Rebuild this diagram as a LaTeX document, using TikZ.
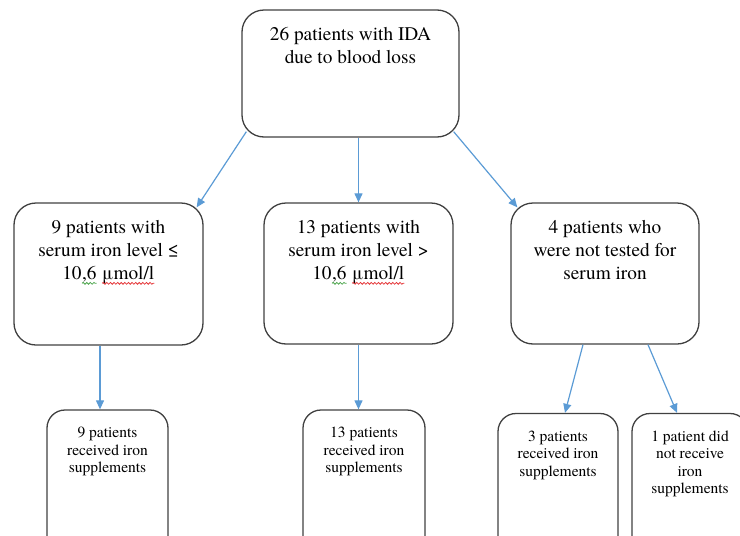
\documentclass[tikz,border=0pt]{standalone}
\usepackage{fontspec}
\setmainfont{TeX Gyre Termes}
\usetikzlibrary{arrows.meta,calc,positioning,decorations.pathmorphing}
\definecolor{BoxInk}{HTML}{404040}
\definecolor{FlowBlue}{HTML}{5B9BD5}
\definecolor{SpellRed}{HTML}{E5383B}
\definecolor{SpellGreen}{HTML}{4CA64C}
% word-style wavy underline
\newcommand{\wavy}[2]{\tikz[baseline=(wv.base)]{\node[inner sep=0pt,outer sep=0pt] (wv) {#2};
  \draw[#1, line width=0.8pt, decorate, decoration={snake,amplitude=0.9pt,segment length=3.6pt}]
    ([yshift=-4pt]wv.base west) -- ([yshift=-4pt]wv.base east);}}
\tikzset{
  box/.style={draw=BoxInk, line width=1.3pt, rounded corners=22pt, inner sep=0pt},
  smallbox/.style={box, rounded corners=18pt},
  btext/.style={font=\fontsize{19.3}{22.8}\selectfont, align=center, inner sep=0pt, anchor=north, yshift=-18pt},
  stext/.style={font=\fontsize{15.5}{17.6}\selectfont, align=center, inner sep=0pt, anchor=north, yshift=-17.5pt},
  arr/.style={draw=FlowBlue, line width=1.2pt, -{Triangle[length=9pt,width=8pt]}},
}

\begin{document}
\begin{tikzpicture}[x=1pt, y=-1pt]
\clip (0,0) rectangle (740,536);
% first level
\node[box, minimum width=217pt, minimum height=127pt] (top) at (350.5,73.5) {};
\node[btext] (topT) at (top.north) {26 patients with IDA\\due to blood loss};
% second level
\node[box, minimum width=189pt, minimum height=142pt] (L) at (108.5,274) {};
\node[btext] (LT) at (L.north) {9 patients with\\serum iron level ≤\\10\wavy{SpellGreen}{,6} \wavy{SpellRed}{μmol/l}};
\node[box, minimum width=189pt, minimum height=141pt] (M) at (358.5,273.5) {};
\node[btext] (MT) at (M.north) {13 patients with\\serum iron level >\\10\wavy{SpellGreen}{,6} \wavy{SpellRed}{μmol/l}};
\node[box, minimum width=188pt, minimum height=141pt] (R) at (605,273.5) {};
\node[btext] (RT) at (R.north) {4 patients who\\were not tested for\\serum iron};
% third level
\node[smallbox, minimum width=121pt, minimum height=150pt] (B1) at (107.5,485) {};
\node[stext] (B1T) at (B1.north) {9 patients\\received iron\\supplements};
\node[smallbox, minimum width=122pt, minimum height=150pt] (B2) at (364,485) {};
\node[stext] (B2T) at (B2.north) {13 patients\\received iron\\supplements};
\node[smallbox, minimum width=120pt, minimum height=150pt] (B3) at (558,488.5) {};
\node[stext] (B3T) at (B3.north) {3 patients\\received iron\\supplements};
\node[smallbox, minimum width=116pt, minimum height=150pt] (B4) at (690,488.5) {};
\node[stext] (B4T) at (B4.north) {1 patient did\\not receive\\iron\\supplements};
% arrows
\draw[arr] ([xshift=5pt,yshift=6pt]top.south west) -- ([xshift=-7pt,yshift=-5pt]L.north east);
\draw[arr] (M.north |- top.south) -- (M.north);
\draw[arr] ([xshift=-6pt,yshift=6pt]top.south east) -- ([xshift=7pt,yshift=-5pt]R.north west);
\coordinate (Lfoot) at ([xshift=-8.5pt]L.south);
\draw[arr] (Lfoot) -- (Lfoot |- B1.north);
\draw[arr] (M.south) -- (M.south |- B2.north);
\draw[arr] ([xshift=-22pt]R.south) -- ([xshift=7pt]B3.north);
\draw[arr] ([xshift=43pt]R.south) -- ([xshift=-13pt]B4.north);
\end{tikzpicture}
\end{document}
